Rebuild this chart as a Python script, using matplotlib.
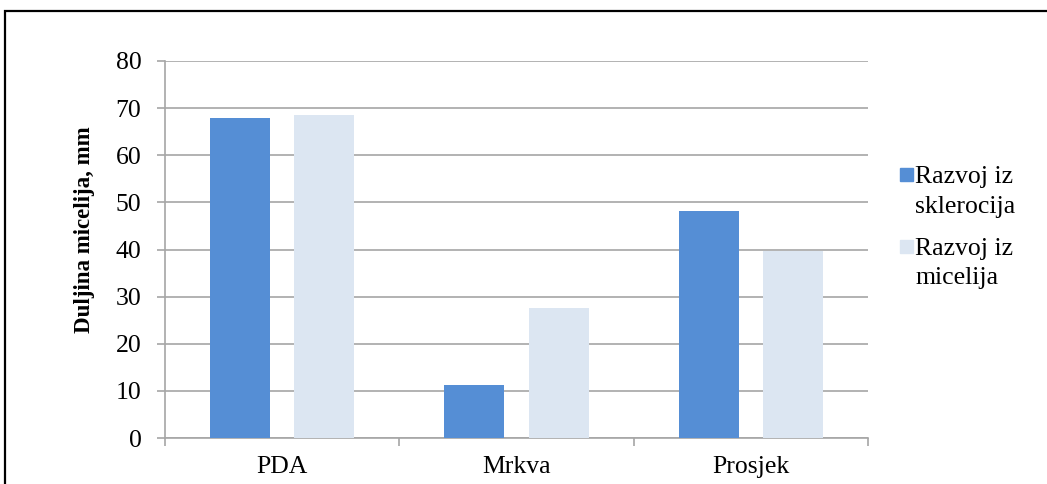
import numpy as np
import matplotlib.pyplot as plt
from matplotlib.patches import Rectangle

categories = ["PDA", "Mrkva", "Prosjek"]
sklerocija = [68.0, 11.3, 48.2]
micelija = [68.5, 27.6, 39.7]
series_names = ["Razvoj iz\nsklerocija", "Razvoj iz\nmicelija"]
colors = ["#558ed5", "#dce6f2"]

plt.rcParams["font.family"] = ["Liberation Serif", "DejaVu Serif"]

fig = plt.figure(figsize=(10.47, 4.84), dpi=100)
fig.patches.append(Rectangle((0.005, -0.1), 1.1, 1.077, transform=fig.transFigure,
                             fill=False, edgecolor="black", linewidth=1.6))
ax = fig.add_axes([0.1576, 0.095, 0.6714, 0.779])

x = np.arange(len(categories))
w = 0.256
off = 0.18
ax.bar(x - off, sklerocija, w, color=colors[0], zorder=3)
ax.bar(x + off, micelija, w, color=colors[1], zorder=3)

ax.set_xlim(-0.5, 2.5)
ax.set_ylim(0, 80)
ax.set_yticks(range(0, 81, 10))
ax.yaxis.grid(True, color="#a6a6a6", linewidth=1.2, zorder=0)
ax.set_xticks(x)
ax.set_xticklabels(categories, fontsize=18.5)
ax.tick_params(axis="x", length=0, pad=13)
ax.set_xticks([-0.5, 0.5, 1.5, 2.5], minor=True)
ax.tick_params(axis="x", which="minor", length=6, color="#a6a6a6", width=1.2)
ax.tick_params(axis="y", labelsize=18.5, length=6, color="#a6a6a6", width=1.2, pad=11)
for s in ["top", "right"]:
    ax.spines[s].set_visible(False)
for s in ["left", "bottom"]:
    ax.spines[s].set_color("#a6a6a6")
    ax.spines[s].set_linewidth(1.2)
ax.set_ylabel("Duljina micelija, mm", fontsize=16.5, fontweight="bold")
ax.yaxis.set_label_coords(-0.0996, 0.552)

# legend drawn by hand so the square sits beside the first line
leg_y = [0.738, 0.548]
for name, c, yy in zip(series_names, colors, leg_y):
    ax.add_patch(Rectangle((1.0455, yy - 0.056), 0.0185, 0.0345, transform=ax.transAxes,
                           color=c, clip_on=False))
    ax.text(1.067, yy - 0.017, name, transform=ax.transAxes, fontsize=18.5, va="top",
            ha="left", linespacing=1.45)

fig.savefig("out.png", dpi=100)
